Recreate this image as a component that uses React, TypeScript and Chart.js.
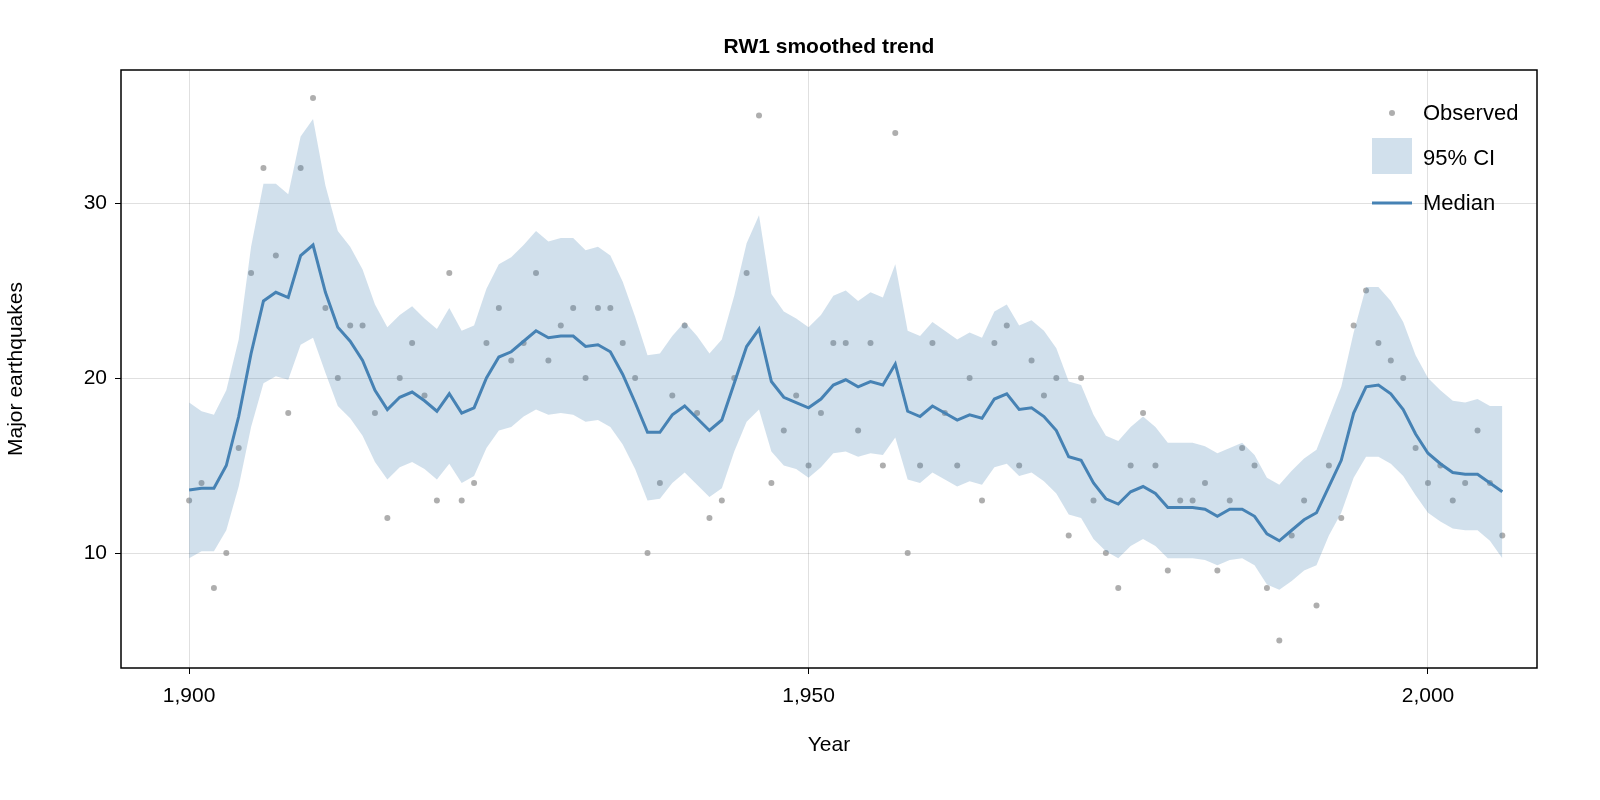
import { useEffect, useRef } from 'react';
import { Chart, registerables } from 'chart.js';

Chart.register(...registerables);

const startYear = 1900;

const observed = [
  13, 14, 8, 10, 16, 26, 32, 27, 18, 32, 36, 24, 20, 23, 23, 18, 12, 20, 22, 19,
  13, 26, 13, 14, 22, 24, 21, 22, 26, 21, 23, 24, 20, 24, 24, 22, 20, 10, 14, 19,
  23, 18, 12, 13, 20, 26, 35, 14, 17, 19, 15, 18, 22, 22, 17, 22, 15, 34, 10, 15,
  22, 18, 15, 20, 13, 22, 23, 15, 21, 19, 20, 11, 20, 13, 10, 8, 15, 18, 15, 9,
  13, 13, 14, 9, 13, 16, 15, 8, 5, 11, 13, 7, 15, 12, 23, 25, 22, 21, 20, 16,
  14, 15, 13, 14, 17, 14, 11,
];

const median = [
  13.6, 13.7, 13.7, 15, 17.8, 21.4, 24.4, 24.9, 24.6, 27, 27.6, 24.9, 22.9, 22.1, 21, 19.3, 18.2, 18.9, 19.2, 18.7,
  18.1, 19.1, 18, 18.3, 20, 21.2, 21.5, 22.1, 22.7, 22.3, 22.4, 22.4, 21.8, 21.9, 21.5, 20.2, 18.6, 16.9, 16.9, 17.9,
  18.4, 17.7, 17, 17.6, 19.7, 21.8, 22.8, 19.8, 18.9, 18.6, 18.3, 18.8, 19.6, 19.9, 19.5, 19.8, 19.6, 20.8, 18.1, 17.8,
  18.4, 18, 17.6, 17.9, 17.7, 18.8, 19.1, 18.2, 18.3, 17.8, 17, 15.5, 15.3, 14, 13.1, 12.8, 13.5, 13.8, 13.4, 12.6,
  12.6, 12.6, 12.5, 12.1, 12.5, 12.5, 12.1, 11.1, 10.7, 11.3, 11.9, 12.3, 13.8, 15.3, 18, 19.5, 19.6, 19.1, 18.2, 16.8,
  15.7, 15.1, 14.6, 14.5, 14.5, 14, 13.5,
];

const upper = [
  18.6, 18.1, 17.9, 19.3, 22.2, 27.5, 31.1, 31.1, 30.5, 33.8, 34.8, 31, 28.4, 27.5, 26.2, 24.2, 22.9, 23.6, 24.1, 23.4,
  22.8, 24, 22.7, 23, 25.1, 26.5, 26.9, 27.6, 28.4, 27.8, 28, 28, 27.3, 27.5, 27, 25.5, 23.5, 21.3, 21.4, 22.4,
  23.2, 22.4, 21.4, 22.2, 24.7, 27.7, 29.3, 24.8, 23.8, 23.4, 22.9, 23.6, 24.7, 25, 24.4, 24.9, 24.6, 26.5, 22.7, 22.4,
  23.2, 22.7, 22.2, 22.6, 22.3, 23.8, 24.2, 23, 23.3, 22.7, 21.7, 19.8, 19.6, 17.9, 16.7, 16.4, 17.2, 17.8, 17.2, 16.3,
  16.3, 16.3, 16.1, 15.7, 16, 16.3, 15.6, 14.3, 13.9, 14.7, 15.4, 15.9, 17.7, 19.5, 22.6, 25.2, 25.2, 24.4, 23.2, 21.3,
  20, 19.3, 18.7, 18.6, 18.8, 18.4, 18.4,
];

const lower = [
  9.7, 10.1, 10.1, 11.3, 13.8, 17.2, 19.7, 20.1, 19.9, 21.9, 22.3, 20.3, 18.4, 17.7, 16.7, 15.2, 14.2, 14.9, 15.2, 14.8,
  14.2, 15.1, 14, 14.4, 16, 17, 17.2, 17.8, 18.2, 17.9, 18, 17.9, 17.5, 17.6, 17.2, 16.2, 14.8, 13, 13.1, 14,
  14.6, 13.9, 13.2, 13.7, 15.8, 17.5, 18.2, 15.8, 15, 14.8, 14.3, 14.9, 15.7, 15.8, 15.5, 15.7, 15.6, 16.6, 14.2, 14,
  14.6, 14.2, 13.8, 14.1, 13.9, 14.9, 15.1, 14.4, 14.6, 14.1, 13.4, 12.2, 12, 10.8, 10.1, 9.7, 10.4, 10.8, 10.4, 9.7,
  9.7, 9.7, 9.6, 9.3, 9.6, 9.7, 9.3, 8.2, 7.9, 8.4, 9, 9.3, 11, 12.3, 14.3, 15.5, 15.5, 15.1, 14.4, 13.3,
  12.3, 11.8, 11.4, 11.3, 11.3, 10.7, 9.7,
];

const xTicks = [1900, 1950, 2000];
const yTicks = [10, 20, 30];

const FONT = "'Liberation Sans', Arial, sans-serif";
const BLUE = '#4682b4';
const BAND = 'rgba(70,130,180,0.25)';
const DOT = 'rgba(140,140,140,0.7)';

const pts = (arr: number[]) => arr.map((y, i) => ({ x: startYear + i, y }));

const framePlugin = {
  id: 'frame',
  afterDraw(chart: Chart) {
    const { ctx, chartArea: a } = chart;
    ctx.save();
    ctx.strokeStyle = '#000';
    ctx.lineWidth = 1.5;
    ctx.strokeRect(a.left, a.top, a.right - a.left, a.bottom - a.top);
    ctx.fillStyle = '#000';
    ctx.font = `bold 21px ${FONT}`;
    ctx.textAlign = 'center';
    ctx.textBaseline = 'middle';
    ctx.fillText('RW1 smoothed trend', (a.left + a.right) / 2, 47);
    // legend
    const lx = 1392;
    ctx.font = `22px ${FONT}`;
    ctx.textAlign = 'left';
    ctx.fillStyle = DOT;
    ctx.beginPath();
    ctx.arc(lx, 113, 3, 0, Math.PI * 2);
    ctx.fill();
    ctx.fillStyle = BAND;
    ctx.fillRect(lx - 20, 138, 40, 36);
    ctx.strokeStyle = BLUE;
    ctx.lineWidth = 3;
    ctx.beginPath();
    ctx.moveTo(lx - 20, 203);
    ctx.lineTo(lx + 20, 203);
    ctx.stroke();
    ctx.fillStyle = '#000';
    ctx.fillText('Observed', lx + 31, 114);
    ctx.fillText('95% CI', lx + 31, 159);
    ctx.fillText('Median', lx + 31, 204);
    ctx.restore();
  },
};

export default function App() {
  const canvasRef = useRef<HTMLCanvasElement>(null);

  useEffect(() => {
    document.body.style.margin = '0';
    if (!canvasRef.current) return;
    const chart = new Chart(canvasRef.current, {
      type: 'line',
      data: {
        datasets: [
          {
            label: 'upper',
            data: pts(upper),
            borderWidth: 0,
            pointRadius: 0,
            backgroundColor: BAND,
            fill: '+1',
          },
          {
            label: 'lower',
            data: pts(lower),
            borderWidth: 0,
            pointRadius: 0,
            fill: false,
          },
          {
            label: 'Median',
            data: pts(median),
            borderColor: BLUE,
            borderWidth: 3,
            pointRadius: 0,
            fill: false,
          },
          {
            type: 'scatter',
            label: 'Observed',
            data: pts(observed),
            pointRadius: 3,
            pointBackgroundColor: DOT,
            pointBorderWidth: 0,
            showLine: false,
          },
        ],
      },
      options: {
        responsive: false,
        animation: false,
        layout: { padding: { top: 70, right: 63, bottom: 38, left: 0 } },
        plugins: { legend: { display: false }, tooltip: { enabled: false } },
        scales: {
          x: {
            type: 'linear',
            min: 1894.5,
            max: 2008.8,
            afterBuildTicks: (s) => {
              s.ticks = xTicks.map((v) => ({ value: v }));
            },
            afterFit: (s) => {
              s.height = 94;
            },
            ticks: { color: '#000', font: { family: FONT, size: 21 }, padding: 10 },
            grid: { color: 'rgba(0,0,0,0.12)', tickColor: '#000', tickLength: 6 },
            border: { display: false },
            title: { display: true, text: 'Year', color: '#000', font: { family: FONT, size: 21 }, padding: { top: 6 } },
          },
          y: {
            min: 3.43,
            max: 37.6,
            afterBuildTicks: (s) => {
              s.ticks = yTicks.map((v) => ({ value: v }));
            },
            afterFit: (s) => {
              s.width = 121;
            },
            ticks: { color: '#000', font: { family: FONT, size: 21 }, padding: 8 },
            grid: { color: 'rgba(0,0,0,0.12)', tickColor: '#000', tickLength: 6 },
            border: { display: false },
            title: { display: true, text: 'Major earthquakes', color: '#000', font: { family: FONT, size: 21 }, padding: { bottom: 4 } },
          },
        },
      },
      plugins: [framePlugin],
    });
    return () => chart.destroy();
  }, []);

  return <canvas ref={canvasRef} width={1600} height={800} style={{ display: 'block' }} />;
}
